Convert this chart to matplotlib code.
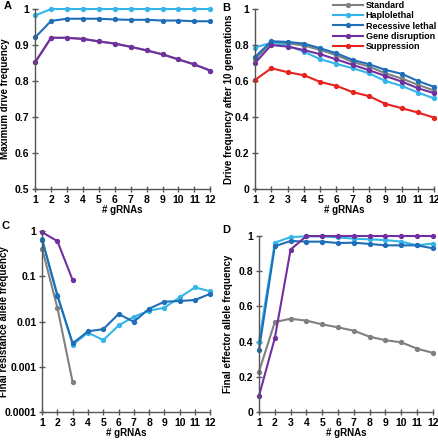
import numpy as np
import matplotlib.pyplot as plt
from matplotlib.ticker import FixedLocator, NullLocator

plt.rcParams['font.family'] = ['Liberation Sans', 'DejaVu Sans']
plt.rcParams['font.weight'] = 'bold'

grnas = list(range(1, 13))

names = ['Standard', 'Haplolethal', 'Recessive lethal', 'Gene disruption', 'Suppression']
colors = ['#808080', '#35b6e8', '#1f6fb8', '#7030a0', '#e8231f']

# panel A - maximum drive frequency
a_std = [0.852, 0.920, 0.920, 0.917, 0.910, 0.904, 0.895, 0.885, 0.874, 0.860, 0.846, 0.829]
a_hap = [0.982, 1.0, 1.0, 1.0, 1.0, 1.0, 1.0, 1.0, 1.0, 1.0, 1.0, 1.0]
a_rec = [0.921, 0.967, 0.973, 0.973, 0.973, 0.971, 0.970, 0.970, 0.968, 0.968, 0.966, 0.966]
a_gd = [0.852, 0.920, 0.920, 0.917, 0.910, 0.904, 0.895, 0.885, 0.874, 0.860, 0.846, 0.829]

# panel B - drive frequency after 10 generations
b_std = [0.72, 0.815, 0.81, 0.797, 0.773, 0.743, 0.706, 0.680, 0.643, 0.614, 0.579, 0.547]
b_hap = [0.786, 0.813, 0.797, 0.763, 0.721, 0.695, 0.671, 0.643, 0.600, 0.573, 0.536, 0.503]
b_rec = [0.734, 0.821, 0.817, 0.808, 0.782, 0.754, 0.717, 0.693, 0.662, 0.640, 0.600, 0.567]
b_gd = [0.700, 0.800, 0.791, 0.772, 0.749, 0.720, 0.690, 0.660, 0.628, 0.597, 0.560, 0.532]
b_sup = [0.606, 0.671, 0.649, 0.632, 0.595, 0.573, 0.538, 0.516, 0.473, 0.449, 0.425, 0.396]

# panel C - final resistance allele frequency
c_std_x = [1, 2, 3]
c_std = [0.41, 0.02, 0.00045]
c_gd_x = [1, 2, 3]
c_gd = [0.95, 0.6, 0.082]
c_hap = [0.66, 0.039, 0.0031, 0.0057, 0.0039, 0.0082, 0.0128, 0.0174, 0.0203, 0.0344, 0.057, 0.0467]
c_rec = [0.65, 0.037, 0.0033, 0.0061, 0.0068, 0.0147, 0.0099, 0.0193, 0.0275, 0.0285, 0.030, 0.0414]

# panel D - final effector allele frequency
d_std = [0.23, 0.511, 0.530, 0.519, 0.498, 0.481, 0.462, 0.428, 0.408, 0.396, 0.360, 0.336]
d_hap = [0.40, 0.962, 0.994, 0.998, 0.998, 0.992, 0.985, 0.981, 0.977, 0.968, 0.947, 0.957]
d_rec = [0.353, 0.942, 0.972, 0.968, 0.968, 0.960, 0.962, 0.955, 0.947, 0.947, 0.947, 0.930]
d_gd = [0.092, 0.420, 0.923, 1.0, 1.0, 1.0, 1.0, 1.0, 1.0, 1.0, 1.0, 1.0]

fig = plt.figure(figsize=(4.39, 4.40), dpi=100)
axA = fig.add_axes([0.080, 0.5705, 0.399, 0.409])
axB = fig.add_axes([0.581, 0.5705, 0.408, 0.409])
axC = fig.add_axes([0.096, 0.0636, 0.383, 0.411])
axD = fig.add_axes([0.590, 0.0636, 0.396, 0.400])

TFS = 7.5
LFS = 7.0


def line(ax, x, y, c, label=None):
    ax.plot(x, y, color=c, lw=1.5, marker='o', ms=2.8, label=label, clip_on=False)


def style(ax, ylabel, lx):
    for s in ['top', 'right']:
        ax.spines[s].set_visible(False)
    for s in ['left', 'bottom']:
        ax.spines[s].set_color('#555555')
        ax.spines[s].set_linewidth(1.0)
    ax.set_xlim(1, 12)
    ax.set_xticks(grnas)
    ax.tick_params(direction='inout', length=5, width=1.0, color='#555555', labelsize=TFS, pad=1.5)
    for t in ax.get_xticklabels() + ax.get_yticklabels():
        t.set_fontweight('bold')
    ax.set_xlabel('# gRNAs', fontsize=LFS, fontweight='bold', labelpad=0)
    ax.set_ylabel(ylabel, fontsize=LFS, fontweight='bold')
    ax.yaxis.set_label_coords(lx, 0.5)


line(axA, grnas, a_std, colors[0])
line(axA, grnas, a_hap, colors[1])
line(axA, grnas, a_rec, colors[2])
line(axA, grnas, a_gd, colors[3])
axA.set_ylim(0.5, 1)
axA.set_yticks([0.5, 0.6, 0.7, 0.8, 0.9, 1])
axA.set_yticklabels(['0.5', '0.6', '0.7', '0.8', '0.9', '1'])
style(axA, 'Maximum drive frequency', -0.145)

line(axB, grnas, b_std, colors[0], names[0])
line(axB, grnas, b_hap, colors[1], names[1])
line(axB, grnas, b_rec, colors[2], names[2])
line(axB, grnas, b_gd, colors[3], names[3])
line(axB, grnas, b_sup, colors[4], names[4])
axB.set_ylim(0, 1)
axB.set_yticks([0, 0.2, 0.4, 0.6, 0.8, 1])
axB.set_yticklabels(['0', '0.2', '0.4', '0.6', '0.8', '1'])
style(axB, 'Drive frequency after 10 generations', -0.12)
leg = axB.legend(loc='upper left', bbox_to_anchor=(0.415, 1.065), frameon=False, fontsize=6.5,
                 handlelength=3.3, handletextpad=0.3, labelspacing=0.15, borderaxespad=0)
for t in leg.get_texts():
    t.set_fontweight('bold')

line(axC, c_std_x, c_std, colors[0])
line(axC, grnas, c_hap, colors[1])
line(axC, grnas, c_rec, colors[2])
line(axC, c_gd_x, c_gd, colors[3])
axC.set_yscale('log')
axC.set_ylim(0.0001, 1)
axC.yaxis.set_major_locator(FixedLocator([0.0001, 0.001, 0.01, 0.1, 1]))
axC.yaxis.set_minor_locator(NullLocator())
axC.set_yticklabels(['0.0001', '0.001', '0.01', '0.1', '1'])
style(axC, 'Final resistance allele frequency', -0.195)

line(axD, grnas, d_std, colors[0])
line(axD, grnas, d_hap, colors[1])
line(axD, grnas, d_rec, colors[2])
line(axD, grnas, d_gd, colors[3])
axD.set_ylim(0, 1)
axD.set_yticks([0, 0.2, 0.4, 0.6, 0.8, 1])
axD.set_yticklabels(['0', '0.2', '0.4', '0.6', '0.8', '1'])
style(axD, 'Final effector allele frequency', -0.15)

for lab, x, y in [('A', 4, 1), ('B', 222, 3), ('C', 2, 221), ('D', 222, 225)]:
    fig.text(x / 439, 1 - y / 440, lab, fontsize=8, fontweight='bold', va='top', ha='left')

fig.savefig('out.png', dpi=100)
